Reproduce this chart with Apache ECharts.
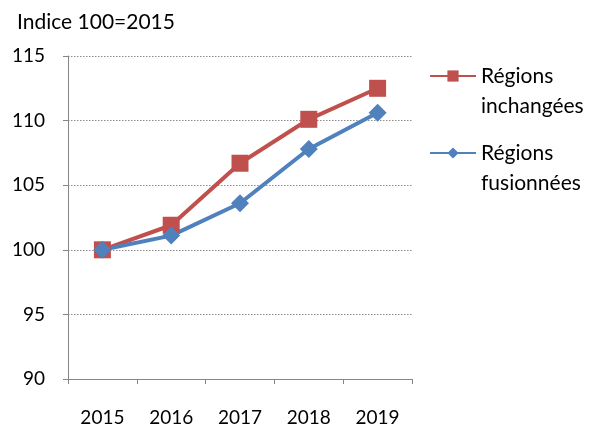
<!DOCTYPE html>
<html>
<head>
<meta charset="utf-8">
<script src="https://cdn.jsdelivr.net/npm/echarts@6/dist/echarts.min.js"></script>
<style>
  html, body { margin: 0; padding: 0; background: #fff; }
  #chart { width: 603px; height: 428px; }
</style>
</head>
<body>
<div id="chart"></div>
<script>
// values (index 100 = 2015)
const years = ['2015', '2016', '2017', '2018', '2019'];
const unchanged = [100, 101.9, 106.7, 110.1, 112.5];
const merged = [100, 101.1, 103.6, 107.8, 110.6];
const seriesNames = ['Régions inchangées', 'Régions fusionnées'];

const FONT = 'Lato, "Open Sans", sans-serif';
const RED = '#C0504D', BLUE = '#4F81BD';

const chart = echarts.init(document.getElementById('chart'));
chart.setOption({
  animation: false,
  textStyle: { fontFamily: FONT },
  title: {
    text: 'Indice 100=2015',
    left: 12, top: 7,
    textStyle: { fontSize: 21, fontWeight: 'normal', color: '#000', fontFamily: FONT }
  },
  grid: { left: 68, right: 191, top: 56, bottom: 49 },
  legend: {
    orient: 'vertical',
    left: 429, top: 31,
    padding: 0,
    itemWidth: 46, itemHeight: 14,
    itemGap: -13,
    // blank first line so the icon sits level with "Régions"
    formatter: name => '\u00a0\n' + name.replace(' ', '\n'),
    textStyle: { fontSize: 21, color: '#000', lineHeight: 30, fontFamily: FONT },
    data: seriesNames
  },
  xAxis: {
    type: 'category',
    data: years,
    boundaryGap: true,
    axisLine: { lineStyle: { color: '#868686', width: 1 } },
    axisTick: { show: true, length: 5, lineStyle: { color: '#868686' } },
    axisLabel: { fontSize: 19, color: '#000', margin: 29 }
  },
  yAxis: {
    type: 'value',
    min: 90, max: 115, interval: 5,
    axisLine: { show: true, lineStyle: { color: '#868686', width: 1 } },
    axisTick: { show: true, length: 5, lineStyle: { color: '#868686' } },
    axisLabel: { fontSize: 19, color: '#000', margin: 23 },
    splitLine: { lineStyle: { color: '#8c8c8c', type: [1.5, 1.5], width: 1 } }
  },
  series: [
    {
      name: seriesNames[0], type: 'line', data: unchanged,
      symbol: 'rect', symbolSize: 17,
      itemStyle: { color: RED },
      lineStyle: { color: RED, width: 4 }
    },
    {
      name: seriesNames[1], type: 'line', data: merged,
      symbol: 'diamond', symbolSize: 18,
      itemStyle: { color: BLUE },
      lineStyle: { color: BLUE, width: 4 }
    }
  ]
});
</script>
</body>
</html>
